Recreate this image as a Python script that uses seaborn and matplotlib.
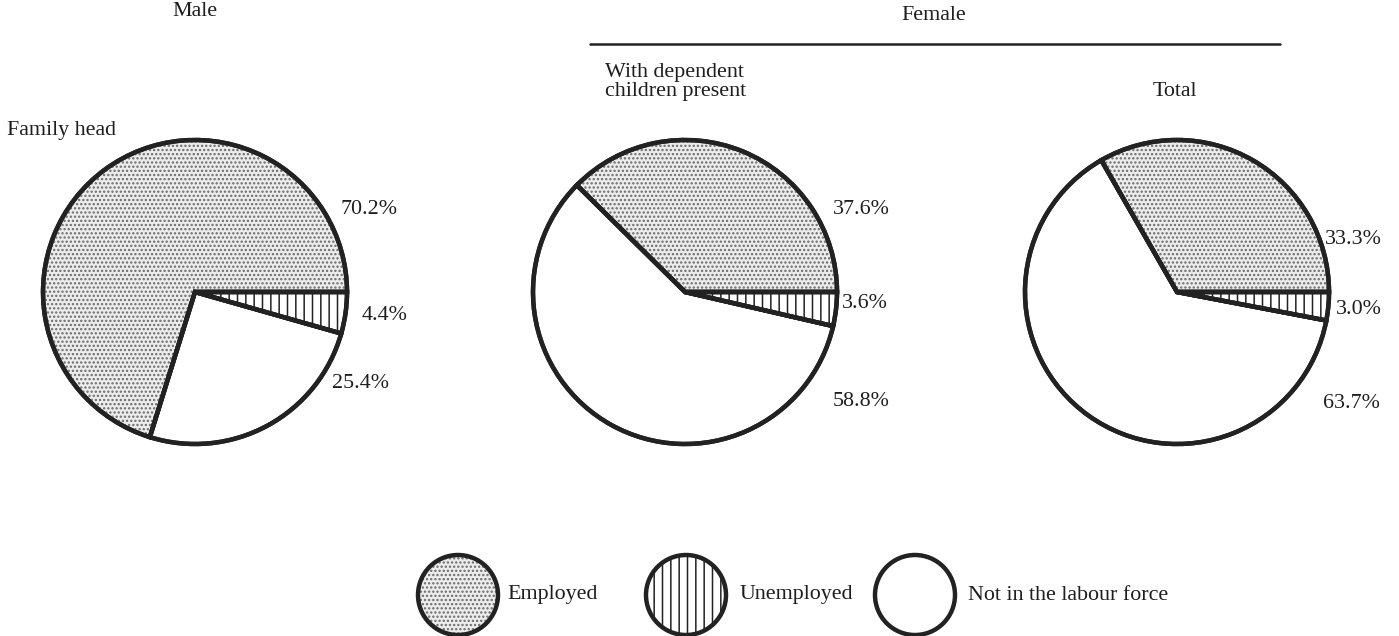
import matplotlib
matplotlib.use("Agg")
import matplotlib.pyplot as plt
import matplotlib.patches as mp
import seaborn as sns

# ---- data ----
groups = ["Family head", "With dependent\nchildren present", "Total"]
categories = ["Employed", "Unemployed", "Not in the labour force"]
employed = [70.2, 37.6, 33.3]
unemployed = [4.4, 3.6, 3.0]
not_in_lf = [25.4, 58.8, 63.7]

sns.set_theme(style="white")
plt.rcParams["font.family"] = ["Liberation Serif", "DejaVu Serif"]
plt.rcParams["hatch.linewidth"] = 1.1

W, H = 1399, 636
fig = plt.figure(figsize=(W / 100, H / 100), dpi=100)
ax = fig.add_axes([0, 0, 1, 1])


def fy(y):
    return H - y


FS = 15.8
TXT = "#1e1e1e"
EMP_FC = "#ececec"
TEX = "#6a6a6a"
EDGE = "#222222"
LW = 3.2

centers = [(195, 292), (685, 292), (1177, 292)]
R = 152
label_pos = [
    [(340, 210), (362, 316), (332, 384)],
    [(833, 210), (842, 304), (833, 401)],
    [(1325, 240), (1336, 310), (1323, 403)],
]

for i, (cx, cy) in enumerate(centers):
    vals = [employed[i], not_in_lf[i], unemployed[i]]
    wedges, _ = ax.pie(
        vals,
        colors=[EMP_FC, "white", "white"],
        startangle=0,
        counterclock=True,
        center=(cx, fy(cy)),
        radius=R,
        wedgeprops=dict(edgecolor=EDGE, linewidth=LW, joinstyle="miter"),
    )
    wedges[2].set_hatch("||")
    w = wedges[0]
    tex = mp.Wedge(w.center, w.r, w.theta1, w.theta2, facecolor="none",
                   edgecolor=TEX, linewidth=0, hatch="....", zorder=w.get_zorder() + 0.5)
    ax.add_patch(tex)
    for wd in wedges:
        ax.add_patch(mp.Wedge(wd.center, wd.r, wd.theta1, wd.theta2, facecolor="none",
                              edgecolor=EDGE, linewidth=LW, joinstyle="miter", zorder=3))
    for (lx, ly), v in zip(label_pos[i], [employed[i], unemployed[i], not_in_lf[i]]):
        ax.text(lx, fy(ly), f"{v:.1f}%", fontsize=FS, ha="left", va="center", color=TXT)

# titles
ax.text(195, fy(12), "Male", fontsize=FS, ha="center", va="center", color=TXT)
ax.text(934, fy(15), "Female", fontsize=FS, ha="center", va="center", color=TXT)
ax.plot([590, 1280], [fy(44), fy(44)], color=EDGE, lw=1.8)
ax.text(605, fy(82), groups[1], fontsize=FS, ha="left", va="center", color=TXT,
        linespacing=1.05)
ax.text(1175, fy(91), groups[2], fontsize=FS, ha="center", va="center", color=TXT)
ax.text(7, fy(131), groups[0], fontsize=FS, ha="left", va="center", color=TXT)

# legend
D = 80
leg = [(458, 507), (686, 740), (915, 968)]
ey = fy(595)
for k, ((ex, tx), name) in enumerate(zip(leg, categories)):
    if k == 0:
        ax.add_patch(mp.Ellipse((ex, ey), D, D, facecolor=EMP_FC, edgecolor="none", zorder=3))
        ax.add_patch(mp.Ellipse((ex, ey), D, D, facecolor="none", edgecolor=TEX,
                                lw=0, hatch="....", zorder=3.5))
    elif k == 1:
        ax.add_patch(mp.Ellipse((ex, ey), D, D, facecolor="white", edgecolor=EDGE,
                                lw=0, hatch="||", zorder=3))
    ax.add_patch(mp.Ellipse((ex, ey), D, D, facecolor="none", edgecolor=EDGE,
                            lw=LW, zorder=4))
    ax.text(tx, ey, name, fontsize=FS, ha="left", va="center", color=TXT)

ax.set_xlim(0, W)
ax.set_ylim(0, H)
ax.set_aspect("equal")
ax.axis("off")

fig.savefig("out.png", dpi=100, facecolor="white")
